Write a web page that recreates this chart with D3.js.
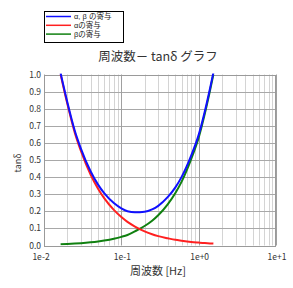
<!DOCTYPE html>
<html><head><meta charset="utf-8">
<script src="https://cdn.jsdelivr.net/npm/d3@7"></script>
<style>
body{margin:0;background:#fff;}
svg{display:block;font-family:"Noto Sans CJK JP","DejaVu Sans",sans-serif;}
</style></head>
<body>
<script>
const freq  = [0.0164,0.02,0.025,0.03,0.04,0.05,0.06,0.08,0.1,0.12,0.15,0.2,0.25,0.3,0.4,0.5,0.6,0.8,1.0,1.2,1.4,1.55];
const alpha = [1.00,0.83,0.66,0.553,0.415,0.332,0.277,0.208,0.166,0.138,0.111,0.083,0.066,0.055,0.042,0.033,0.028,0.021,0.017,0.014,0.012,0.011];
const beta  = [0.007,0.0087,0.0112,0.0136,0.0186,0.0237,0.029,0.0396,0.0506,0.0617,0.083,0.114,0.145,0.177,0.242,0.307,0.372,0.505,0.63,0.77,0.905,1.0];
const both  = [1.007,0.839,0.671,0.567,0.434,0.356,0.306,0.248,0.217,0.200,0.194,0.197,0.211,0.232,0.284,0.340,0.400,0.526,0.647,0.784,0.917,1.011];
const seriesNames = ["α, β の寄与","αの寄与","βの寄与"];
const seriesColors = ["#1010ff","#ff2020","#108010"];
const xTicks = [0.01,0.1,1,10];
const xTickLabels = ["1e-2","1e-1","1e+0","1e+1"];
const yTicks = [0,0.1,0.2,0.3,0.4,0.5,0.6,0.7,0.8,0.9,1.0];

const W=293,H=288;
const L=44,R=276,T=74.5,B=245.5;
const svg=d3.select("body").append("svg").attr("width",W).attr("height",H);
const x=d3.scaleLog().domain([0.01,10]).range([L,R]);
const y=d3.scaleLinear().domain([0,1]).range([B,T]);

// minor grid
const minor=[];
for(let d=0.01; d<10; d*=10){for(let k=2;k<=9;k++) minor.push(d*k);}
svg.append("g").selectAll("line").data(minor).join("line")
 .attr("x1",d=>Math.round(x(d))+0.5).attr("x2",d=>Math.round(x(d))+0.5)
 .attr("y1",T).attr("y2",B).attr("stroke","#d4d4d4").attr("stroke-width",1);
// horizontal grid
svg.append("g").selectAll("line").data(yTicks).join("line")
 .attr("x1",L).attr("x2",R)
 .attr("y1",d=>Math.round(y(d))+0.5).attr("y2",d=>Math.round(y(d))+0.5)
 .attr("stroke","#a8a8a8").attr("stroke-width",1);
// major vertical grid
svg.append("g").selectAll("line").data(xTicks).join("line")
 .attr("x1",d=>Math.round(x(d))+0.5).attr("x2",d=>Math.round(x(d))+0.5)
 .attr("y1",T).attr("y2",B).attr("stroke","#a0a0a0").attr("stroke-width",1);
// border
svg.append("rect").attr("x",L+0.5).attr("y",Math.round(T)+0.5).attr("width",R-L-1).attr("height",Math.round(B)-Math.round(T))
 .attr("fill","none").attr("stroke","#9a9a9a");

// y tick labels
svg.append("g").selectAll("text").data(yTicks).join("text")
 .attr("x",41).attr("y",d=>y(d)+3).attr("text-anchor","end")
 .attr("font-size",8.5).attr("fill","#333").text(d=>d.toFixed(1));
// x tick labels
svg.append("g").selectAll("text").data(xTicks).join("text")
 .attr("x",(d,i)=>x(d)+(i===0?-3:1)).attr("y",259.5).attr("text-anchor","middle")
 .attr("font-size",8.5).attr("fill","#333").text((d,i)=>xTickLabels[i]);

// clip
svg.append("clipPath").attr("id","clip").append("rect").attr("x",L).attr("y",T-1).attr("width",R-L).attr("height",B-T+1);
const line=d3.line().x(d=>x(d[0])).y(d=>y(d[1])).curve(d3.curveMonotoneX);
const data=[both,alpha,beta];
const g=svg.append("g").attr("clip-path","url(#clip)");
[2,1,0].forEach(i=>{
  g.append("path").attr("d",line(freq.map((f,j)=>[f,data[i][j]])))
   .attr("fill","none").attr("stroke",seriesColors[i]).attr("stroke-width",2);
});

// title
svg.append("text").attr("x",158).attr("y",61).attr("text-anchor","middle")
 .attr("font-size",12.5).attr("fill","#333").text("周波数－ tanδ グラフ");
// axis titles
svg.append("text").attr("x",158).attr("y",275).attr("text-anchor","middle")
 .attr("font-size",11).attr("fill","#333").text("周波数 [Hz]");
svg.append("text").attr("transform","translate(21,163) rotate(-90)").attr("text-anchor","middle")
 .attr("font-size",9).attr("fill","#333").text("tanδ");

// legend
const lg=svg.append("g");
lg.append("rect").attr("x",44.5).attr("y",11.5).attr("width",79).attr("height",31)
 .attr("fill","#fff").attr("stroke","#000");
seriesNames.forEach((n,i)=>{
  const yy=16.5+i*8.8;
  lg.append("line").attr("x1",46).attr("x2",71).attr("y1",yy).attr("y2",yy)
    .attr("stroke",seriesColors[i]).attr("stroke-width",1.5);
  lg.append("text").attr("x",74).attr("y",yy+2.8).attr("font-size",7.5)
    .style("font-family","'Liberation Sans','Noto Sans CJK JP',sans-serif")
    .attr("fill","#222").text(n);
});
</script>
</body></html>
